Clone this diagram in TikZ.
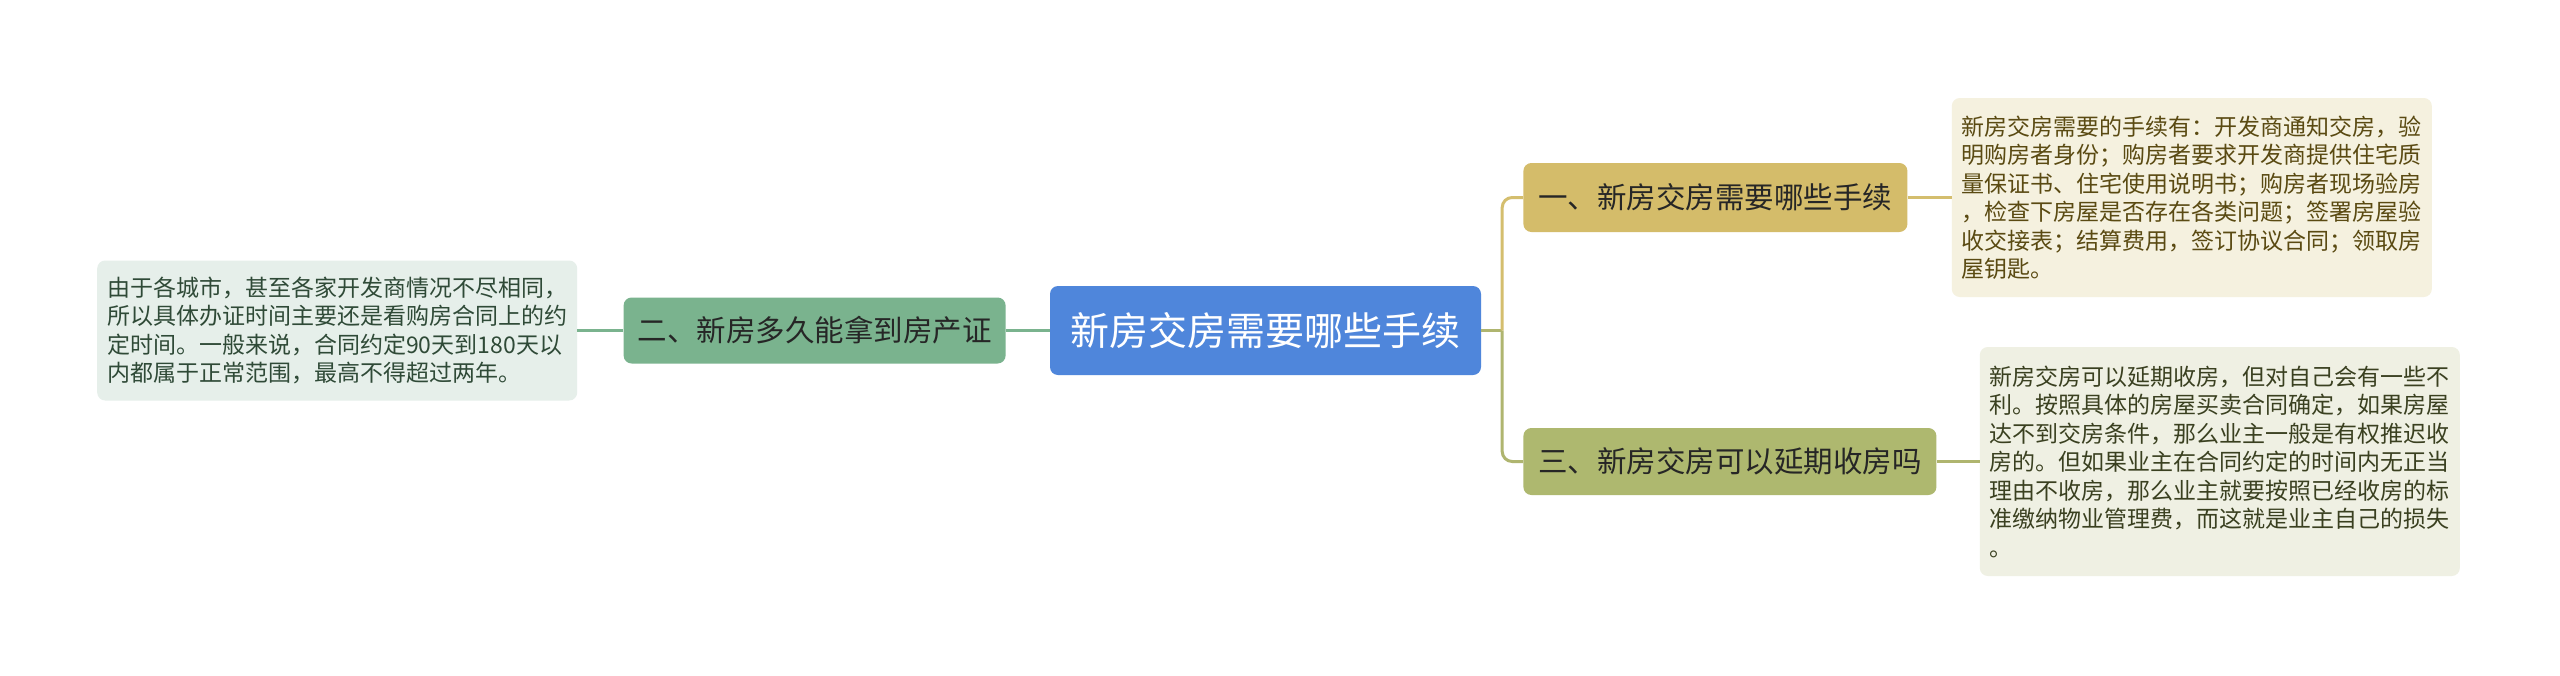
\documentclass[tikz,border=0pt]{standalone}
\usepackage{fontspec}
\newfontfamily\cjk{Noto Sans CJK SC}
\usepackage{xcolor}
\definecolor{ctrblue}{HTML}{4F86DB}
\definecolor{grnfill}{HTML}{7AB38E}
\definecolor{goldfill}{HTML}{D4BC6A}
\definecolor{olvfill}{HTML}{AEB86F}
\definecolor{grnnote}{HTML}{E6EFEA}
\definecolor{goldnote}{HTML}{F5F1DF}
\definecolor{olvnote}{HTML}{EFF0E3}
\definecolor{grntext}{HTML}{2F4A37}
\definecolor{goldtext}{HTML}{5A4A12}
\definecolor{olvtext}{HTML}{3A4020}
\definecolor{goldline}{HTML}{D4BE6E}
\definecolor{olvline}{HTML}{AFB56F}
\usetikzlibrary{positioning, calc}

\begin{document}
\begin{tikzpicture}[x=1pt, y=1pt,
    topic/.style={rectangle, rounded corners=8pt, inner sep=0pt,
      align=center, text=black!85,
      font=\cjk\fontsize{29.5pt}{35pt}\selectfont},
    note/.style={rectangle, rounded corners=8pt, inner xsep=10pt,
      inner ysep=0pt, text width=460pt, align=left,
      font=\cjk\fontsize{23pt}{28.5pt}\selectfont},
    link/.style={line width=3pt}
]
\fill[white] (0,0) rectangle (2560,-675);
\useasboundingbox (0,0) rectangle (2560,-675);

%% Centre
\node[topic, fill=ctrblue, text=white, minimum width=431pt,
  minimum height=89pt, font=\cjk\fontsize{39pt}{45pt}\selectfont]
  (ctr) at (1265.5,-330.5) {新房交房需要哪些手续};

%% Branche gauche
\node[topic, fill=grnfill, minimum width=382pt, minimum height=66pt,
  left=44pt of ctr] (q2) {二、新房多久能拿到房产证};
\node[note, fill=grnnote, text=grntext, minimum height=140pt,
  left=46pt of q2] (a2)
  {由于各城市，甚至各家开发商情况不尽相同，\\
   所以具体办证时间主要还是看购房合同上的约\\
   定时间。一般来说，合同约定90天到180天以\\
   内都属于正常范围，最高不得超过两年。};
\draw[link, grnfill] (ctr) -- (q2);
\draw[link, grnfill] (q2) -- (a2);

%% Branches droites
\node[topic, fill=goldfill, minimum width=384pt, minimum height=69pt,
  right=42pt of ctr, yshift=133pt] (q1) {一、新房交房需要哪些手续};
\node[note, fill=goldnote, text=goldtext, minimum height=199pt,
  right=44pt of q1] (a1)
  {新房交房需要的手续有：开发商通知交房，验\\
   明购房者身份；购房者要求开发商提供住宅质\\
   量保证书、住宅使用说明书；购房者现场验房\\
   ，检查下房屋是否存在各类问题；签署房屋验\\
   收交接表；结算费用，签订协议合同；领取房\\
   屋钥匙。};
\node[topic, fill=olvfill, minimum width=413pt, minimum height=67pt,
  right=42pt of ctr, yshift=-131pt] (q3) {三、新房交房可以延期收房吗};
\node[note, fill=olvnote, text=olvtext, minimum height=229pt,
  right=43pt of q3] (a3)
  {新房交房可以延期收房，但对自己会有一些不\\
   利。按照具体的房屋买卖合同确定，如果房屋\\
   达不到交房条件，那么业主一般是有权推迟收\\
   房的。但如果业主在合同约定的时间内无正当\\
   理由不收房，那么业主就要按照已经收房的标\\
   准缴纳物业管理费，而这就是业主自己的损失\\
   。};
\coordinate (jn) at ($(ctr.east)+(21pt,0)$);
\draw[link, olvline] (ctr) -- (jn);
\draw[link, goldline, rounded corners=10pt] (jn) |- (q1);
\draw[link, olvline, rounded corners=10pt] (jn) |- (q3);
\draw[link, goldline] (q1) -- (a1);
\draw[link, olvline] (q3) -- (a3);
\end{tikzpicture}
\end{document}
